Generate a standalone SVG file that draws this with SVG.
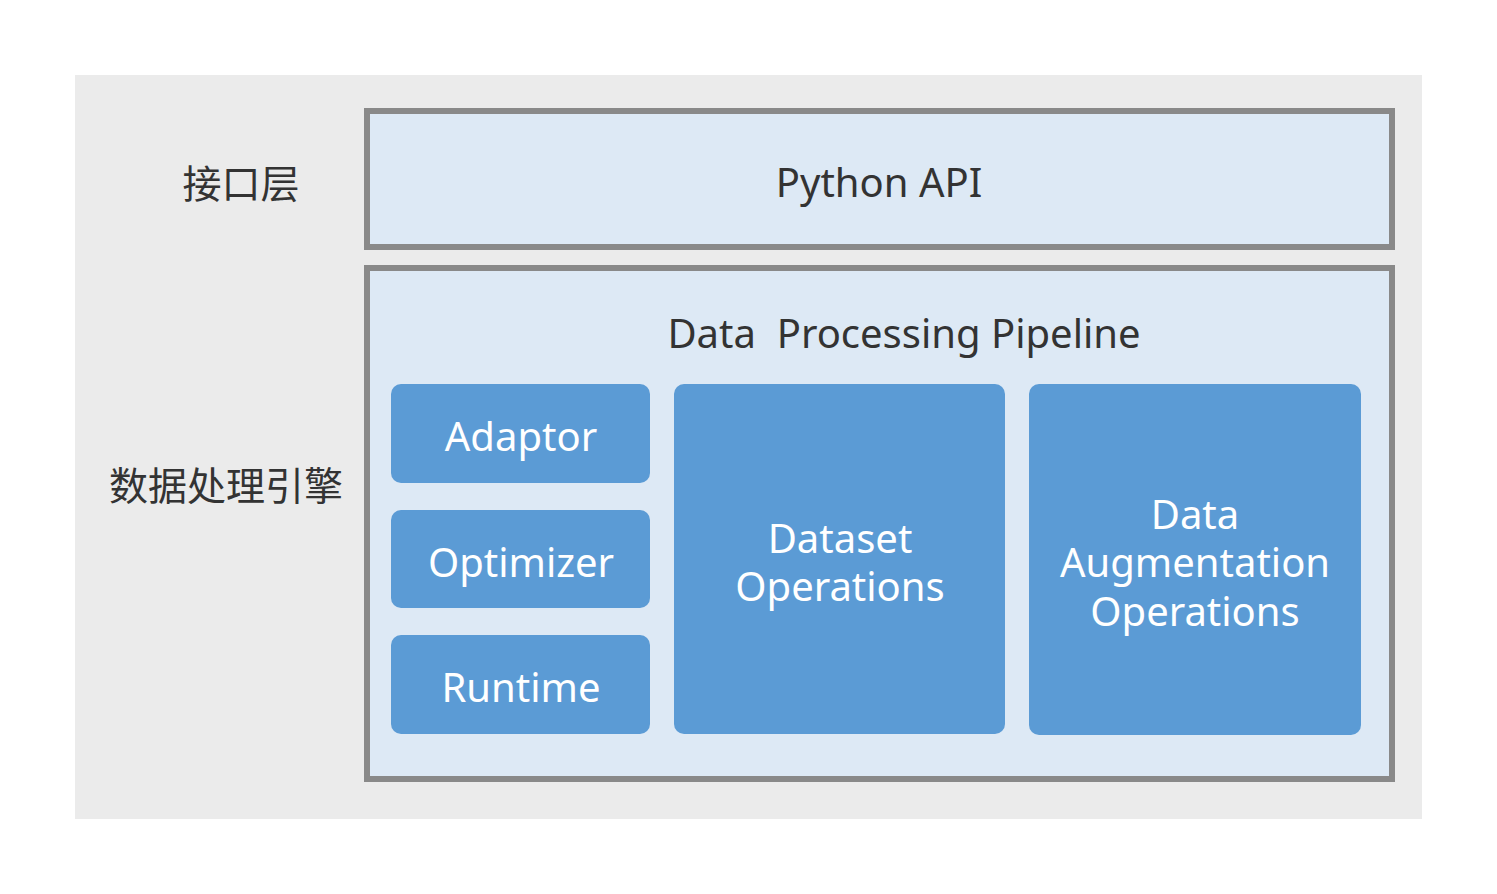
<svg xmlns="http://www.w3.org/2000/svg" width="1497" height="894" viewBox="0 0 1497 894">
<style>
.layer{fill:#dde9f5;stroke:#898989;stroke-width:6}
.blk{fill:#5b9bd5}
.lbl{font-family:"Noto Sans","Open Sans","Noto Sans CJK SC",sans-serif;font-size:40px;fill:#333333;text-anchor:middle}
.cn{font-family:"Noto Sans CJK SC",sans-serif;font-size:39px;fill:#333333;text-anchor:middle}
.w{font-family:"Noto Sans","Open Sans",sans-serif;font-size:40px;fill:#ffffff;text-anchor:middle}
</style>
<rect x="0" y="0" width="1497" height="894" fill="#ffffff"/>
<rect x="75" y="75" width="1347" height="744" fill="#ebebeb"/>
<g id="label-interface"><text class="cn" x="241" y="198">接口层</text></g>
<g id="label-engine"><text class="cn" x="226" y="500">数据处理引擎</text></g>
<g id="python-api">
<rect class="layer" x="367" y="111" width="1025" height="136"/>
<text class="lbl" x="879" y="197">Python API</text>
</g>
<g id="pipeline">
<rect class="layer" x="367" y="268" width="1025" height="511"/>
<text class="lbl" x="904" y="348" xml:space="preserve">Data  Processing Pipeline</text>
</g>
<g id="adaptor">
<rect class="blk" x="391" y="384" width="259" height="99" rx="10"/>
<text class="w" x="521" y="451">Adaptor</text>
</g>
<g id="optimizer">
<rect class="blk" x="391" y="510" width="259" height="98" rx="10"/>
<text class="w" x="521" y="577">Optimizer</text>
</g>
<g id="runtime">
<rect class="blk" x="391" y="635" width="259" height="99" rx="10"/>
<text class="w" x="521" y="702">Runtime</text>
</g>
<g id="dataset-ops">
<rect class="blk" x="674" y="384" width="331" height="350" rx="10"/>
<text class="w" x="840" y="553">Dataset</text>
<text class="w" x="840" y="601">Operations</text>
</g>
<g id="data-aug-ops">
<rect class="blk" x="1029" y="384" width="332" height="351" rx="10"/>
<text class="w" x="1195" y="529">Data</text>
<text class="w" x="1195" y="577">Augmentation</text>
<text class="w" x="1195" y="626">Operations</text>
</g>
<g id="connectors"></g>
</svg>
